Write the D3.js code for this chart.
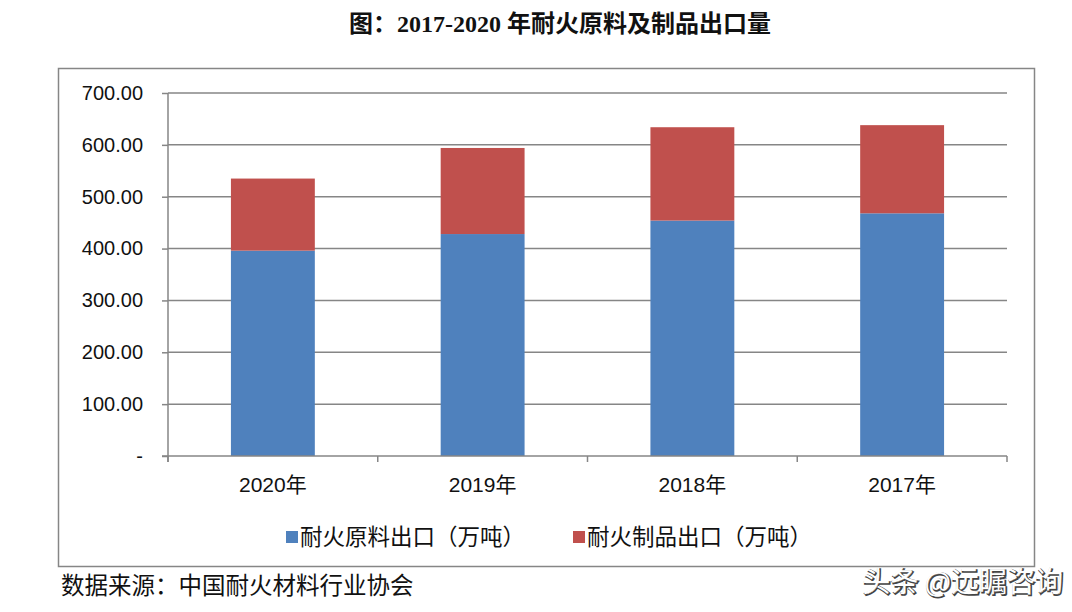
<!DOCTYPE html>
<html>
<head>
<meta charset="utf-8">
<script src="https://cdn.jsdelivr.net/npm/d3@7"></script>
<style>
  body { margin: 0; background: #fff; }
  svg { display: block; }
</style>
</head>
<body>
<svg width="1072" height="612"></svg>
<script>
const years = ['2020年', '2019年', '2018年', '2017年'];
const rawExport = [396, 428, 454, 468];
const productExport = [139, 166, 180, 170];
const seriesNames = ['耐火原料出口（万吨）', '耐火制品出口（万吨）'];
const yTicks = [0, 100, 200, 300, 400, 500, 600, 700];
const colors = ['#4F81BD', '#C0504D'];

const svg = d3.select('svg');
const plotLeft = 168, plotRight = 1007, plotTop = 93, plotBottom = 456;

// title
svg.append('text')
  .attr('x', 560).attr('y', 32)
  .attr('text-anchor', 'middle')
  .style('font-family', '"Liberation Serif", "Noto Sans CJK SC", serif')
  .style('font-weight', 'bold')
  .style('font-size', '24px')
  .style('fill', '#111')
  .text('图：2017-2020 年耐火原料及制品出口量');

// outer frame
svg.append('rect')
  .attr('x', 58.5).attr('y', 68.5)
  .attr('width', 976).attr('height', 498)
  .style('fill', 'none')
  .style('stroke', '#868686')
  .style('stroke-width', 1.5);

const x = d3.scaleBand().domain(years).range([plotLeft, plotRight]).paddingInner(0.6).paddingOuter(0.3);
const y = d3.scaleLinear().domain([0, 700]).range([plotBottom, plotTop]);

// gridlines
svg.append('g').selectAll('line')
  .data(yTicks.filter(d => d > 0))
  .join('line')
  .attr('x1', plotLeft).attr('x2', plotRight)
  .attr('y1', d => y(d)).attr('y2', d => y(d))
  .style('stroke', '#868686')
  .style('stroke-width', 1.5);

// stacked bars
const rows = years.map((yr, i) => ({ year: yr, a: rawExport[i], b: productExport[i] }));
const stack = d3.stack().keys(['a', 'b'])(rows);
svg.append('g').selectAll('g')
  .data(stack)
  .join('g')
  .style('fill', (d, i) => colors[i])
  .selectAll('rect')
  .data(d => d)
  .join('rect')
  .attr('x', d => x(d.data.year))
  .attr('width', x.bandwidth())
  .attr('y', d => y(d[1]))
  .attr('height', d => y(d[0]) - y(d[1]));

// y axis
const yAxis = d3.axisLeft(y)
  .tickValues(yTicks)
  .tickSize(6)
  .tickPadding(19)
  .tickFormat(d => d === 0 ? '-' : d3.format('.2f')(d));
const gy = svg.append('g').attr('transform', `translate(${plotLeft},0)`).call(yAxis);
gy.select('.domain').remove();
gy.append('line').attr('x1', 0).attr('x2', 0).attr('y1', plotTop).attr('y2', plotBottom + 6)
  .style('stroke', '#868686').style('stroke-width', 1.5);
gy.selectAll('.tick line').style('stroke', '#868686').style('stroke-width', 1.5);
gy.selectAll('.tick text')
  .style('font-family', '"Liberation Sans", "Noto Sans", sans-serif')
  .style('font-size', '20px')
  .style('fill', '#111');

// x axis
const xAxis = d3.axisBottom(x).tickSize(0).tickPadding(21);
const gx = svg.append('g').attr('transform', `translate(0,${plotBottom})`).call(xAxis);
gx.select('.domain').remove();
gx.append('line').attr('x1', plotLeft - 6).attr('x2', plotRight).attr('y1', 0).attr('y2', 0)
  .style('stroke', '#868686').style('stroke-width', 1.5);
const step = x.step();
gx.selectAll('.sep')
  .data(d3.range(years.length + 1))
  .join('line')
  .attr('x1', i => plotLeft + i * step).attr('x2', i => plotLeft + i * step)
  .attr('y1', 0).attr('y2', 6)
  .style('stroke', '#868686').style('stroke-width', 1.5);
gx.selectAll('.tick text')
  .style('font-family', '"Liberation Sans", "Noto Sans CJK SC", sans-serif')
  .style('font-size', '21px')
  .style('fill', '#111');

// legend
const legendX = [286, 573];
const lg = svg.append('g').selectAll('g')
  .data(seriesNames)
  .join('g')
  .attr('transform', (d, i) => `translate(${legendX[i]},537)`);
lg.append('rect')
  .attr('x', 0).attr('y', -6).attr('width', 12).attr('height', 12)
  .style('fill', (d, i) => colors[i]);
lg.append('text')
  .attr('x', 14).attr('y', 0).attr('dy', '0.36em')
  .style('font-family', '"Noto Sans CJK SC", sans-serif')
  .style('font-size', '22.5px')
  .style('fill', '#111')
  .text(d => d);

// source
svg.append('text')
  .attr('x', 61).attr('y', 594)
  .style('font-family', '"Noto Sans CJK SC", sans-serif')
  .style('font-size', '23.5px')
  .style('fill', '#111')
  .text('数据来源：中国耐火材料行业协会');

// watermark: white glyphs with a thin grey shadow
const wm = svg.append('g').style('font-family', '"Noto Sans CJK SC", sans-serif')
  .style('font-size', '28px');
wm.append('text')
  .attr('x', 1064).attr('y', 593)
  .attr('text-anchor', 'end')
  .style('fill', 'none')
  .style('stroke', '#444')
  .style('stroke-width', 1.6)
  .text('头条 @远瞩咨询');
wm.append('text')
  .attr('x', 1063).attr('y', 592)
  .attr('text-anchor', 'end')
  .style('fill', '#fff')
  .text('头条 @远瞩咨询');
</script>
</body>
</html>
